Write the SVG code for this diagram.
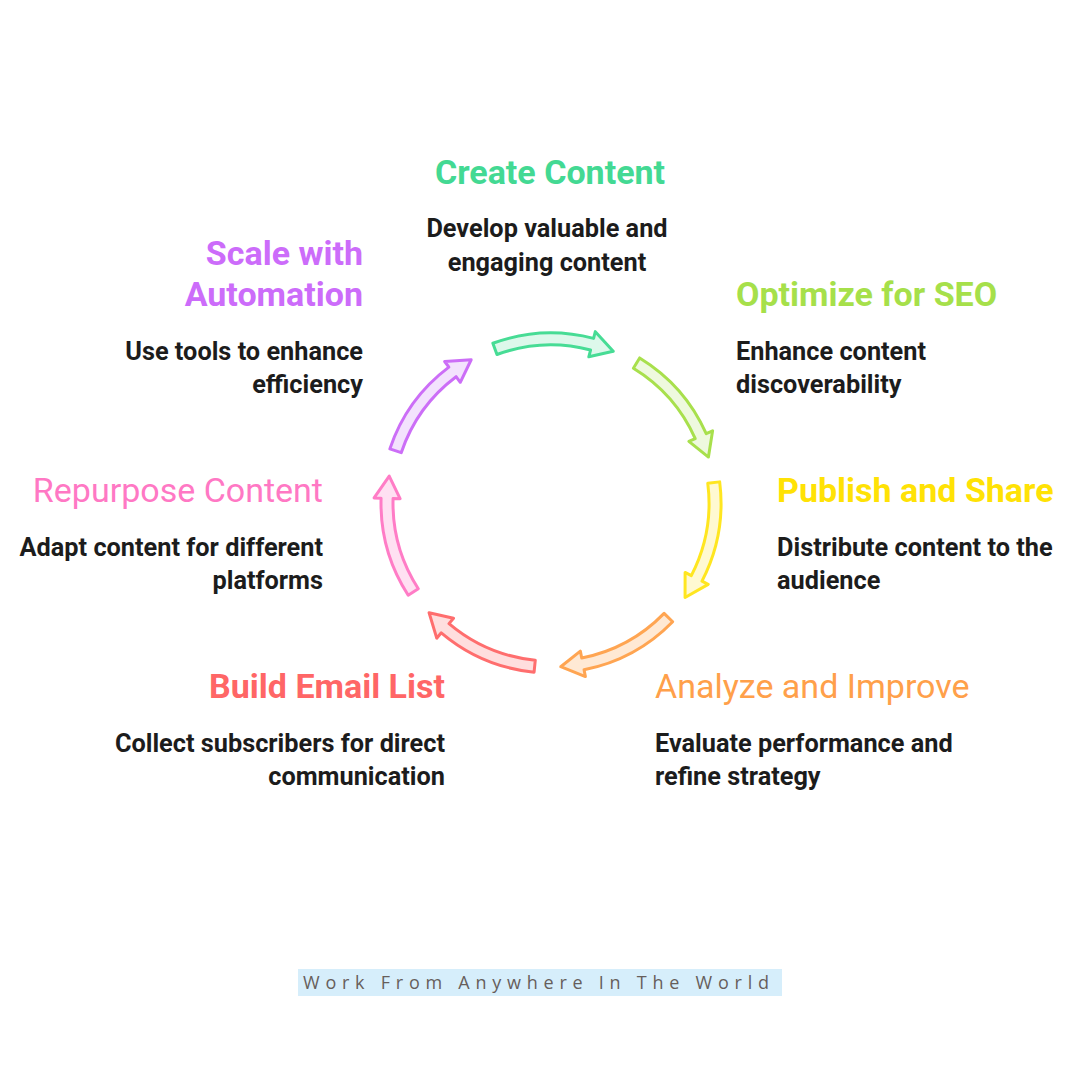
<svg xmlns="http://www.w3.org/2000/svg" width="1080" height="1080" viewBox="0 0 1080 1080">
<style>
.t{font-family:Roboto,"Liberation Sans",sans-serif;font-size:34px;font-weight:700}
.tr{font-family:Roboto,"Liberation Sans",sans-serif;font-size:34px;font-weight:400}
.d{font-family:Roboto,"Liberation Sans",sans-serif;font-size:25.3px;font-weight:700;fill:#1c1c1c}
.r{text-anchor:end}
.m{text-anchor:middle}
.arr{stroke-width:3;stroke-linejoin:round}
</style>
<defs>
<path id="arrow" d="M -58.14,-159.75 A 170 170 0 0 1 42.57,-164.58 L 44.32,-171.35 L 62.24,-151.73 L 37.81,-146.18 L 39.56,-152.96 A 158 158 0 0 0 -54.04,-148.47 Z"/>
</defs>
<rect width="1080" height="1080" fill="#ffffff"/>
<g id="connectors">
<use href="#arrow" class="arr" fill="#DDF8EB" stroke="#47DC95" transform="translate(551,503) rotate(0)"/>
<use href="#arrow" class="arr" fill="#EEF9DE" stroke="#A8E04C" transform="translate(551,503) rotate(51.43)"/>
<use href="#arrow" class="arr" fill="#FFF9D2" stroke="#FFE620" transform="translate(551,503) rotate(102.86)"/>
<use href="#arrow" class="arr" fill="#FFE9D4" stroke="#FFA552" transform="translate(551,503) rotate(154.29)"/>
<use href="#arrow" class="arr" fill="#FFDEDE" stroke="#FF6E6E" transform="translate(551,503) rotate(205.71)"/>
<use href="#arrow" class="arr" fill="#FFE0F2" stroke="#FF7CC6" transform="translate(551,503) rotate(257.14)"/>
<use href="#arrow" class="arr" fill="#F3E2FD" stroke="#CC6EF7" transform="translate(551,503) rotate(308.57)"/>
</g>
<g id="create-content">
<text class="t m" x="550" y="184" fill="#43D993">Create Content</text>
<text class="d m" x="547" y="237">Develop valuable and</text>
<text class="d m" x="547" y="271">engaging content</text>
</g>
<g id="optimize-seo">
<text class="t" x="736" y="306" fill="#A6E04A">Optimize for SEO</text>
<text class="d" x="736" y="360">Enhance content</text>
<text class="d" x="736" y="393">discoverability</text>
</g>
<g id="publish-share">
<text class="t" x="777" y="502" fill="#FFE205">Publish and Share</text>
<text class="d" x="777" y="556">Distribute content to the</text>
<text class="d" x="777" y="589">audience</text>
</g>
<g id="analyze-improve">
<text class="tr" x="655" y="698" fill="#FFA04A">Analyze and Improve</text>
<text class="d" x="655" y="752">Evaluate performance and</text>
<text class="d" x="655" y="785">refine strategy</text>
</g>
<g id="build-email-list">
<text class="t r" x="445" y="698" fill="#FF6666">Build Email List</text>
<text class="d r" x="445" y="752">Collect subscribers for direct</text>
<text class="d r" x="445" y="785">communication</text>
</g>
<g id="repurpose-content">
<text class="tr r" x="323" y="502" fill="#FF78C4">Repurpose Content</text>
<text class="d r" x="323" y="556">Adapt content for different</text>
<text class="d r" x="323" y="589">platforms</text>
</g>
<g id="scale-automation">
<text class="t r" x="363" y="265" fill="#CC6CFA">Scale with</text>
<text class="t r" x="363" y="306" fill="#CC6CFA">Automation</text>
<text class="d r" x="363" y="360">Use tools to enhance</text>
<text class="d r" x="363" y="393">efficiency</text>
</g>
<g id="footer">
<rect x="298" y="969" width="484" height="27" fill="#D6EEFB"/>
<text x="303" y="989" font-family="'Open Sans','Liberation Sans',sans-serif" font-size="18" fill="#675E5B" textLength="466" lengthAdjust="spacing">Work From Anywhere In The World</text>
</g>
</svg>
